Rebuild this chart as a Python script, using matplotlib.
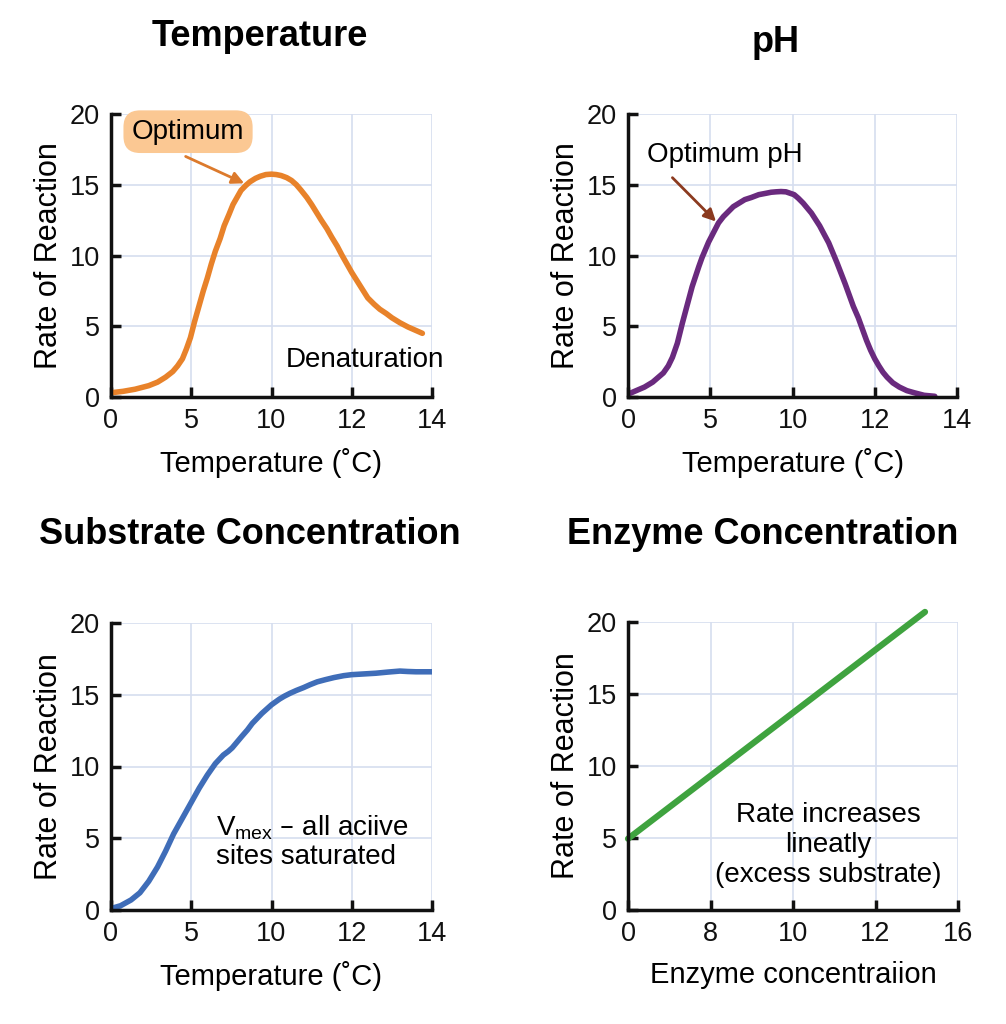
import matplotlib.pyplot as plt

plt.rcParams['font.family'] = ['Liberation Sans', 'DejaVu Sans']

# x values are positions along the evenly spaced tick grid (0..4)
temp_x = [0, 0.15, 0.3, 0.47, 0.58, 0.68, 0.77, 0.83, 0.89, 0.94, 0.99, 1.04, 1.1,
          1.15, 1.2, 1.25, 1.3, 1.36, 1.41, 1.47, 1.52, 1.57, 1.62, 1.68, 1.73, 1.8,
          1.86, 1.93, 2.0, 2.06, 2.12, 2.19, 2.25, 2.31, 2.37, 2.44, 2.5, 2.56, 2.62,
          2.69, 2.75, 2.82, 2.88, 2.94, 3.0, 3.05, 3.1, 3.15, 3.2, 3.28, 3.35, 3.43,
          3.5, 3.6, 3.7, 3.8, 3.88]
temp_y = [0.3, 0.4, 0.55, 0.8, 1.05, 1.4, 1.8, 2.2, 2.7, 3.4, 4.2, 5.3, 6.5, 7.5,
          8.4, 9.4, 10.3, 11.2, 12.1, 12.9, 13.6, 14.1, 14.6, 14.95, 15.2, 15.45,
          15.6, 15.72, 15.75, 15.72, 15.65, 15.5, 15.3, 15.0, 14.6, 14.1, 13.6, 13.05,
          12.5, 11.9, 11.3, 10.65, 10.0, 9.4, 8.8, 8.35, 7.9, 7.45, 7.0, 6.55, 6.2,
          5.9, 5.6, 5.25, 4.95, 4.7, 4.5]

ph_x = [0, 0.1, 0.2, 0.3, 0.37, 0.43, 0.49, 0.54, 0.57, 0.6, 0.63, 0.66, 0.69, 0.72,
        0.75, 0.78, 0.82, 0.86, 0.9, 0.94, 0.98, 1.02, 1.06, 1.1, 1.16, 1.22, 1.28,
        1.35, 1.42, 1.5, 1.59, 1.68, 1.74, 1.8, 1.86, 1.92, 1.97, 2.02, 2.07, 2.13,
        2.18, 2.23, 2.28, 2.33, 2.38, 2.44, 2.49, 2.54, 2.59, 2.64, 2.69, 2.74, 2.8,
        2.85, 2.9, 2.95, 3.0, 3.05, 3.1, 3.15, 3.22, 3.3, 3.39, 3.48, 3.6, 3.73]
ph_y = [0.2, 0.45, 0.7, 1.05, 1.4, 1.7, 2.2, 2.8, 3.3, 3.8, 4.5, 5.2, 5.85, 6.5,
        7.15, 7.8, 8.5, 9.2, 9.85, 10.4, 10.95, 11.4, 11.85, 12.3, 12.75, 13.1, 13.45,
        13.7, 13.95, 14.1, 14.3, 14.4, 14.47, 14.5, 14.52, 14.5, 14.4, 14.3, 14.05,
        13.7, 13.35, 13.0, 12.55, 12.1, 11.55, 10.9, 10.2, 9.5, 8.75, 8.0, 7.2, 6.4,
        5.6, 4.8, 4.0, 3.3, 2.7, 2.2, 1.75, 1.4, 1.0, 0.7, 0.45, 0.3, 0.12, 0.05]

sub_x = [0, 0.12, 0.25, 0.36, 0.47, 0.58, 0.68, 0.78, 0.89, 0.95, 1.0, 1.05, 1.1, 1.15,
         1.2, 1.25, 1.3, 1.35, 1.4, 1.46, 1.51, 1.57, 1.63, 1.7, 1.76, 1.82, 1.88, 1.94,
         2.0, 2.05, 2.1, 2.16, 2.23, 2.31, 2.4, 2.48, 2.57, 2.67, 2.78, 2.9, 3.0, 3.15,
         3.3, 3.45, 3.6, 3.7, 3.8, 4.0]
sub_y = [0.1, 0.3, 0.7, 1.2, 2.0, 3.0, 4.1, 5.3, 6.4, 7.0, 7.5, 8.0, 8.5, 8.95, 9.4,
         9.8, 10.2, 10.5, 10.8, 11.05, 11.3, 11.7, 12.1, 12.55, 13.0, 13.35, 13.7, 14.0,
         14.3, 14.5, 14.7, 14.9, 15.1, 15.3, 15.5, 15.7, 15.9, 16.05, 16.2, 16.33, 16.4,
         16.45, 16.5, 16.58, 16.65, 16.62, 16.6, 16.6]

enz_x = [0, 3.6]
enz_y = [4.95, 20.7]

temp_ticks = ['0', '5', '10', '12', '14']
enz_ticks = ['0', '8', '10', '12', '16']

fig = plt.figure(figsize=(10.06, 10.24), dpi=100)

boxes = [(111, 397, 432, 114), (628, 397, 957, 114),
         (111, 910, 432, 623), (628, 910, 958, 622)]
axes = []
for l, b, r, t in boxes:
    ax = fig.add_axes([l / 1006, 1 - b / 1024, (r - l) / 1006, (b - t) / 1024])
    axes.append(ax)

for i, ax in enumerate(axes):
    ax.set_xlim(0, 4)
    ax.set_ylim(0, 20)
    ax.set_xticks(range(5))
    ax.set_xticklabels(enz_ticks if i == 3 else temp_ticks)
    ax.set_yticks([0, 5, 10, 15, 20])
    ax.grid(True, color='#d6deef', lw=1.2)
    ax.set_axisbelow(True)
    for s in ['top', 'right']:
        ax.spines[s].set_visible(False)
    for s in ['left', 'bottom']:
        ax.spines[s].set_linewidth(2.5)
        ax.spines[s].set_color('#111111')
    ax.tick_params(direction='in', length=7, width=2.5, labelsize=19.5, pad=8,
                   colors='#111111')
    ax.set_ylabel('Rate of Reaction', fontsize=22, labelpad=4)
    if i == 3:
        ax.set_xlabel('Enzyme concentraiion', fontsize=21, labelpad=10)
    else:
        ax.set_xlabel('Temperature (\u02daC)', fontsize=21, labelpad=10)

ax1, ax2, ax3, ax4 = axes
ax1.plot(temp_x, temp_y, color='#e8822a', lw=4, solid_capstyle='round',
         solid_joinstyle='round')
ax2.plot(ph_x, ph_y, color='#6a2a7e', lw=4, solid_capstyle='round',
         solid_joinstyle='round')
ax3.plot(sub_x, sub_y, color='#3f6db8', lw=4, solid_capstyle='round',
         solid_joinstyle='round')
ax4.plot(enz_x, enz_y, color='#3fa33f', lw=4.5, solid_capstyle='round', clip_on=False)

# temperature panel annotations
ax1.text(0.96, 18.75, 'Optimum', fontsize=20, ha='center', va='center',
         bbox=dict(boxstyle='round,pad=0.3,rounding_size=0.6', fc='#fbc893', ec='none'))
ax1.annotate('', xy=(1.66, 15.1), xytext=(0.93, 17.0),
             arrowprops=dict(arrowstyle='-|>', color='#dc7a2c', lw=2,
                             mutation_scale=18, shrinkA=0, shrinkB=0))
ax1.text(3.17, 2.65, 'Denaturation', fontsize=20, ha='center', va='center')

# pH panel annotations
ax2.text(1.18, 17.1, 'Optimum pH', fontsize=20, ha='center', va='center')
ax2.annotate('', xy=(1.07, 12.4), xytext=(0.54, 15.5),
             arrowprops=dict(arrowstyle='-|>', color='#8b3a1f', lw=2,
                             mutation_scale=18, shrinkA=0, shrinkB=0))

ax3.text(1.31, 4.8, 'V$_{\\mathregular{mex}}$ \u2013 all aciive\nsites saturated',
         fontsize=20, ha='left', va='center', linespacing=1.1)

ax4.text(2.43, 4.5, 'Rate increases\nlineatly\n(excess substrate)', fontsize=20,
         ha='center', va='center', linespacing=1.2)

fig.text(260 / 1006, 1 - 37 / 1024, 'Temperature', fontsize=26, fontweight='bold',
         ha='center', va='center')
fig.text(776 / 1006, 1 - 43 / 1024, 'pH', fontsize=26, fontweight='bold',
         ha='center', va='center')
fig.text(250 / 1006, 1 - 535 / 1024, 'Substrate Concentration', fontsize=26,
         fontweight='bold', ha='center', va='center')
fig.text(763 / 1006, 1 - 535 / 1024, 'Enzyme Concentration', fontsize=26,
         fontweight='bold', ha='center', va='center')

fig.savefig('out.png', dpi=100)
